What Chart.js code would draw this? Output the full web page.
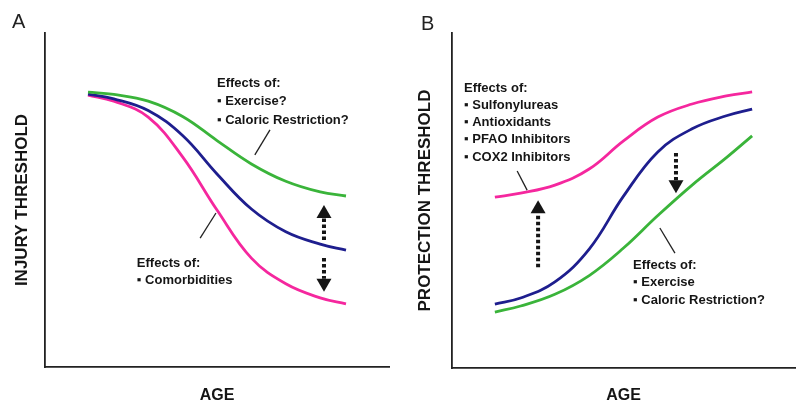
<!DOCTYPE html>
<html>
<head>
<meta charset="utf-8">
<script src="https://cdn.jsdelivr.net/npm/chart.js@4/dist/chart.umd.min.js"></script>
<style>
html,body{margin:0;padding:0;background:#fff;}
#wrap{position:relative;width:800px;height:412px;}
.panel{position:absolute;top:0;width:400px;height:412px;}
</style>
</head>
<body>
<div id="wrap">
  <div class="panel" style="left:0"><canvas id="chartA" width="400" height="412"></canvas></div>
  <div class="panel" style="left:400px"><canvas id="chartB" width="400" height="412"></canvas></div>
</div>
<script>
// ---- data (relative units, 0-100) ----
const ages = [12.5, 20, 30, 40, 50, 60, 70, 80, 87.5];

// Panel A: injury threshold vs age
const injuryExercise   = [82.3, 81.6, 79.6, 75.0, 67.8, 60.8, 55.6, 52.4, 51.2];
const injuryBaseline   = [81.7, 80.3, 76.8, 69.3, 57.8, 47.3, 40.5, 36.8, 35.0];
const injuryComorbid   = [81.4, 79.6, 74.8, 62.9, 47.0, 32.6, 24.9, 20.7, 18.9];

// Panel B: protection threshold vs age
const protectDrugs     = [51.0, 52.2, 54.6, 59.4, 67.8, 74.9, 78.8, 81.2, 82.4];
const protectBaseline  = [19.1, 20.9, 25.7, 35.5, 51.3, 64.5, 71.4, 75.3, 77.3];
const protectExercise  = [16.7, 18.5, 22.0, 27.6, 35.8, 45.5, 54.6, 62.8, 69.3];

const annotationA1 = ['Effects of:', '\u25AA Exercise?', '\u25AA Caloric Restriction?'];
const annotationA2 = ['Effects of:', '\u25AA Comorbidities'];
const annotationB1 = ['Effects of:', '\u25AA Sulfonylureas', '\u25AA Antioxidants', '\u25AA PFAO Inhibitors', '\u25AA COX2 Inhibitors'];
const annotationB2 = ['Effects of:', '\u25AA Exercise', '\u25AA Caloric Restriction?'];

// ---- styling ----
const FONT = '"Liberation Sans", Arial, "DejaVu Sans", sans-serif';
const GREEN = '#3ab43a', BLUE = '#1e1e8e', MAGENTA = '#f5279e', INK = '#151515';

function pts(values){ return ages.map((a,i)=>({x:a, y:values[i]})); }
function ds(values, color){
  return {data: pts(values), borderColor: color, borderWidth: 2.8, pointRadius: 0,
          fill: false, tension: 0.4};
}

function drawArrow(ctx, x, yTail, yTip){
  const dir = Math.sign(yTip - yTail), head = 13, hw = 7.5;
  const baseY = yTip - dir*head;
  ctx.save();
  ctx.strokeStyle = INK; ctx.lineWidth = 4; ctx.setLineDash([3.5,2.5]);
  ctx.beginPath(); ctx.moveTo(x, yTail); ctx.lineTo(x, baseY); ctx.stroke();
  ctx.setLineDash([]); ctx.fillStyle = INK;
  ctx.beginPath(); ctx.moveTo(x, yTip); ctx.lineTo(x-hw, baseY); ctx.lineTo(x+hw, baseY); ctx.closePath(); ctx.fill();
  ctx.restore();
}

function notesPlugin(spec){
  return {
    id: 'notes' + spec.label,
    afterDraw(chart){
      const ctx = chart.ctx, xs = chart.scales.x, ys = chart.scales.y;
      const px = v => xs.getPixelForValue(v), py = v => ys.getPixelForValue(v);
      ctx.save();
      ctx.fillStyle = '#222';
      ctx.font = '20px ' + FONT;
      ctx.textAlign = 'left'; ctx.textBaseline = 'alphabetic';
      ctx.fillText(spec.label, spec.labelX, spec.labelY);
      ctx.fillStyle = INK;
      ctx.font = 'bold 13px ' + FONT;
      ctx.textBaseline = 'middle';
      spec.texts.forEach(t => {
        t.lines.forEach((s,i) => ctx.fillText(s, px(t.x), py(t.y) + i*t.gap));
      });
      ctx.strokeStyle = '#222'; ctx.lineWidth = 1.3;
      spec.leaders.forEach(l => {
        ctx.beginPath(); ctx.moveTo(px(l[0]), py(l[1])); ctx.lineTo(px(l[2]), py(l[3])); ctx.stroke();
      });
      spec.arrows.forEach(a => drawArrow(ctx, px(a.x), py(a.from), py(a.to)));
      ctx.restore();
    }
  };
}

function makeChart(id, cfg){
  return new Chart(document.getElementById(id), {
    type: 'line',
    data: {datasets: cfg.datasets},
    options: {
      responsive: false, animation: false, devicePixelRatio: 1,
      layout: {padding: {top: 33, right: cfg.padRight, left: 0, bottom: 0}},
      plugins: {legend: {display: false}, tooltip: {enabled: false}},
      scales: {
        x: {type: 'linear', min: 0, max: 100,
            ticks: {display: false}, grid: {display: false},
            border: {color: '#222', width: 1.8},
            title: {display: true, text: 'AGE', color: INK,
                    font: {family: FONT, size: 16, weight: 'bold'}, padding: {top: 0, bottom: 7}},
            afterFit(s){ s.height = cfg.xHeight; }},
        y: {type: 'linear', min: 0, max: 100,
            ticks: {display: false}, grid: {display: false},
            border: {color: '#222', width: 1.8},
            title: {display: true, text: cfg.yTitle, color: INK,
                    font: {family: FONT, size: 17, weight: 'bold'}, padding: {top: cfg.yTitlePad, bottom: 0}},
            afterFit(s){ s.width = cfg.yWidth; }}
      }
    },
    plugins: [notesPlugin(cfg.notes)]
  });
}

makeChart('chartA', {
  yTitle: 'INJURY THRESHOLD', yWidth: 45, yTitlePad: 12, xHeight: 45, padRight: 11,
  datasets: [ds(injuryExercise, GREEN), ds(injuryBaseline, BLUE), ds(injuryComorbid, MAGENTA)],
  notes: {
    label: 'A', labelX: 12, labelY: 28,
    texts: [{x: 50.0, y: 85.0, gap: 18.5, lines: annotationA1},
            {x: 26.7, y: 31.1, gap: 17.5, lines: annotationA2}],
    leaders: [[65.4, 71.0, 61.0, 63.5], [49.7, 46.1, 45.1, 38.6]],
    arrows: [{x: 81.1, from: 38.0, to: 48.5}, {x: 81.1, from: 32.6, to: 22.5}]
  }
});

makeChart('chartB', {
  yTitle: 'PROTECTION THRESHOLD', yWidth: 52, yTitlePad: 15, xHeight: 44, padRight: 5,
  datasets: [ds(protectExercise, GREEN), ds(protectBaseline, BLUE), ds(protectDrugs, MAGENTA)],
  notes: {
    label: 'B', labelX: 21, labelY: 30,
    texts: [{x: 3.5, y: 83.6, gap: 17.3, lines: annotationB1},
            {x: 52.8, y: 30.7, gap: 17.5, lines: annotationB2}],
    leaders: [[19.0, 58.8, 21.9, 53.1], [60.6, 41.8, 65.0, 34.3]],
    arrows: [{x: 25.1, from: 30.1, to: 50.1}, {x: 65.3, from: 64.2, to: 52.2}]
  }
});
</script>
</body>
</html>
